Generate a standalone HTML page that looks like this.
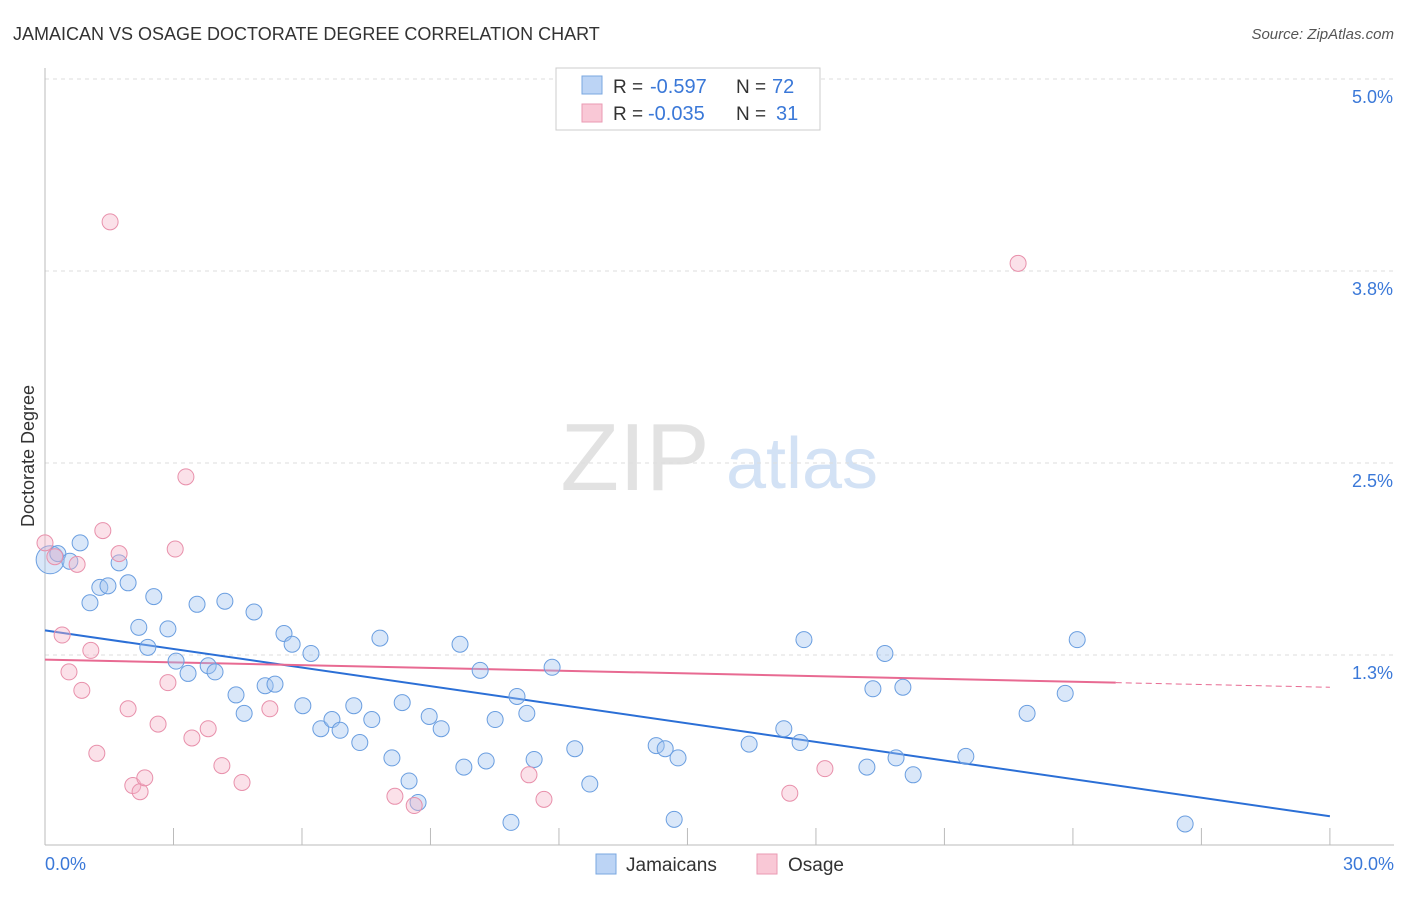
<!DOCTYPE html>
<html><head><meta charset="utf-8"><style>
body{margin:0;background:#fff;font-family:"Liberation Sans",sans-serif}
svg text{font-family:"Liberation Sans",sans-serif}
</style></head><body>
<svg id="chart" width="1406" height="892" xmlns="http://www.w3.org/2000/svg">
<text x="13" y="40" font-size="18" fill="#333">JAMAICAN VS OSAGE DOCTORATE DEGREE CORRELATION CHART</text>
<text x="1394" y="39" font-size="15" fill="#555" font-style="italic" text-anchor="end">Source: ZipAtlas.com</text>
<g>
<text x="635" y="490" font-size="96" fill="#e2e2e2" font-family="Liberation Serif,serif" text-anchor="middle">ZIP</text>
<text x="802" y="488" font-size="72" fill="#d3e2f5" text-anchor="middle">atlas</text>
</g>
<g id="grid"></g>
<g id="axes"></g>
<g id="trend"></g>
<g id="pts"></g>
<text x="34" y="456" font-size="18" fill="#333" text-anchor="middle" transform="rotate(-90 34 456)">Doctorate Degree</text>
<g>
<rect x="556" y="68" width="264" height="62" fill="#fff" stroke="#ccc"/>
<rect x="582" y="76" width="20" height="18" fill="#bcd4f5" stroke="#7aa7e0"/>
<rect x="582" y="104" width="20" height="18" fill="#f9c8d6" stroke="#ea9ab3"/>
<text x="613" y="93" font-size="19" fill="#333">R =</text>
<text x="650" y="93" font-size="20" fill="#3a78d8">-0.597</text>
<text x="736" y="93" font-size="19" fill="#333">N =</text>
<text x="772" y="93" font-size="20" fill="#3a78d8">72</text>
<text x="613" y="120" font-size="19" fill="#333">R =</text>
<text x="648" y="120" font-size="20" fill="#3a78d8">-0.035</text>
<text x="736" y="120" font-size="19" fill="#333">N =</text>
<text x="776" y="120" font-size="20" fill="#3a78d8">31</text>
</g>
<g>
<rect x="596" y="854" width="20" height="20" fill="#bcd4f5" stroke="#7aa7e0"/>
<text x="626" y="871" font-size="19" fill="#333">Jamaicans</text>
<rect x="757" y="854" width="20" height="20" fill="#f9c8d6" stroke="#ea9ab3"/>
<text x="788" y="871" font-size="19" fill="#333">Osage</text>
</g>
</svg>
<script>
const yTicks=[5.0,3.75,2.5,1.25];
const yTickLabels=["5.0%","3.8%","2.5%","1.3%"];
const xTicks=[3,6,9,12,15,18,21,24,27,30];
const xLabels=["0.0%","30.0%"];
const blueX=[0.12,0.30,0.58,0.82,1.05,1.28,1.47,1.73,1.94,2.19,2.40,2.54,2.87,3.06,3.34,3.55,3.81,3.97,4.20,4.46,4.65,4.88,5.14,5.37,5.58,5.77,6.02,6.21,6.44,6.70,6.89,7.21,7.35,7.63,7.82,8.10,8.34,8.50,8.71,8.97,9.25,9.69,9.78,10.16,10.30,10.51,10.88,11.02,11.25,11.42,11.84,12.37,12.72,14.27,14.48,14.69,14.78,16.44,17.25,17.63,17.72,19.19,19.33,19.61,19.87,20.03,20.27,21.50,22.93,23.82,24.10,26.62];
const blueY=[1.87,1.91,1.86,1.98,1.59,1.69,1.70,1.85,1.72,1.43,1.30,1.63,1.42,1.21,1.13,1.58,1.18,1.14,1.60,0.99,0.87,1.53,1.05,1.06,1.39,1.32,0.92,1.26,0.77,0.83,0.76,0.92,0.68,0.83,1.36,0.58,0.94,0.43,0.29,0.85,0.77,1.32,0.52,1.15,0.56,0.83,0.16,0.98,0.87,0.57,1.17,0.64,0.41,0.66,0.64,0.18,0.58,0.67,0.77,0.68,1.35,0.52,1.03,1.26,0.58,1.04,0.47,0.59,0.87,1.00,1.35,0.15];
const pinkX=[0,0.23,0.40,0.56,0.75,0.86,1.07,1.21,1.35,1.52,1.73,1.94,2.05,2.22,2.33,2.64,2.87,3.04,3.29,3.43,3.81,4.13,4.60,5.25,8.17,8.62,11.30,11.65,17.39,18.21,22.72];
const pinkY=[1.98,1.89,1.38,1.14,1.84,1.02,1.28,0.61,2.06,4.07,1.91,0.90,0.40,0.36,0.45,0.80,1.07,1.94,2.41,0.71,0.77,0.53,0.42,0.90,0.33,0.27,0.47,0.31,0.35,0.51,3.80];
const blueTrend=[1.41,0.20];
const pinkTrend=[1.22,1.07,1.04];
const X=v=>45+v*42.83, Y=v=>847-v*153.6;
const NS="http://www.w3.org/2000/svg";
function mk(p,t,a){const e=document.createElementNS(NS,t);for(const k in a)e.setAttribute(k,a[k]);p.appendChild(e);return e;}
const grid=document.getElementById('grid'),axes=document.getElementById('axes'),tr=document.getElementById('trend'),pts=document.getElementById('pts');
yTicks.forEach((t,i)=>{
const l=mk(grid,'line',{x1:45,x2:1394,y1:Y(t),y2:Y(t),stroke:'#ddd','stroke-dasharray':'4,4'});


const tx=mk(axes,'text',{x:1393,y:Y(t)+24,'font-size':18,fill:'#3a78d8','text-anchor':'end'});tx.textContent=yTickLabels[i];


});
const ax=mk(axes,'line',{x1:45,x2:45,y1:68,y2:845,stroke:'#bbb'});


const bx=mk(axes,'line',{x1:45,x2:1394,y1:845,y2:845,stroke:'#bbb'});


xTicks.forEach(t=>{const l=mk(axes,'line',{x1:X(t),x2:X(t),y1:828,y2:845,stroke:'#bbb'});

});
[[0,'start',45],[30,'end',1394]].forEach((d,i)=>{const tx=mk(axes,'text',{x:d[2],y:870,'font-size':18,fill:'#3a78d8','text-anchor':d[1]});tx.textContent=xLabels[i];

});
blueX.forEach((x,i)=>{const c=mk(pts,'circle',{cx:X(x),cy:Y(blueY[i]),r:i==0?14:8,fill:'rgba(160,195,240,0.4)',stroke:'#6a9ee0','stroke-width':1});

});
pinkX.forEach((x,i)=>{const c=mk(pts,'circle',{cx:X(x),cy:Y(pinkY[i]),r:8,fill:'rgba(245,180,200,0.4)',stroke:'#e890ab','stroke-width':1});

});
const b=mk(tr,'line',{x1:X(0),y1:Y(blueTrend[0]),x2:X(30),y2:Y(blueTrend[1]),stroke:'#2b6fd6','stroke-width':2});


const p=mk(tr,'line',{x1:X(0),y1:Y(pinkTrend[0]),x2:X(25),y2:Y(pinkTrend[1]),stroke:'#e86a92','stroke-width':2});


const pd=mk(tr,'line',{x1:X(25),y1:Y(pinkTrend[1]),x2:X(30),y2:Y(pinkTrend[2]),stroke:'#e86a92','stroke-width':1,'stroke-dasharray':'6,4'});


</script>
</body></html>
